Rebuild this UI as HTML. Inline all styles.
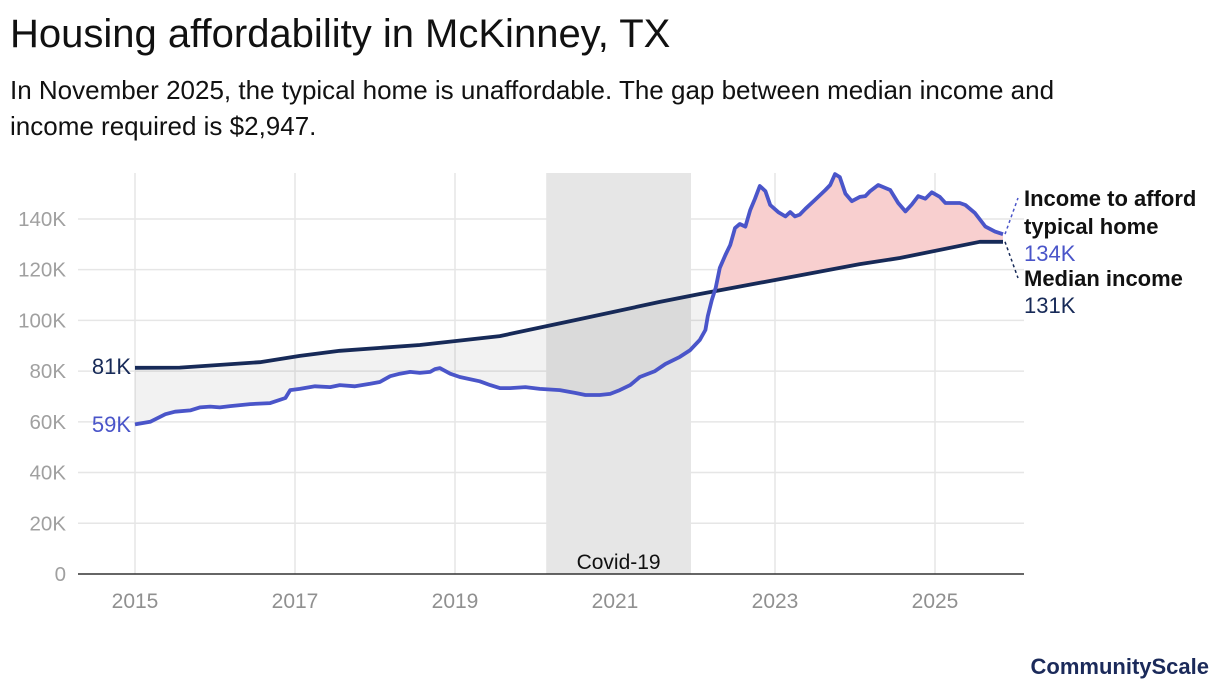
<!DOCTYPE html>
<html><head><meta charset="utf-8"><style>
body{margin:0;background:#fff;font-family:"Liberation Sans",sans-serif;}
#wrap{position:relative;width:1220px;height:692px;overflow:hidden;}
.t{position:absolute;white-space:nowrap;}
</style></head><body>
<div id="wrap">
<div class="t" style="left:10px;top:12px;font-size:40px;color:#111;">Housing affordability in McKinney, TX</div>
<div class="t" style="left:10px;top:72px;font-size:26px;line-height:36px;color:#111;white-space:normal;width:1125px;">In November 2025, the typical home is unaffordable. The gap between median income and income required is $2,947.</div>
<svg id="chart" width="1220" height="692" style="position:absolute;left:0;top:0;font-family:'Liberation Sans',sans-serif;"></svg>
<div class="t" style="right:11px;top:654px;font-size:22px;font-weight:bold;color:#1b2a5a;">CommunityScale</div>
</div>
<script>
const reqDates=[2015.0,2015.19,2015.38,2015.5,2015.69,2015.81,2015.94,2016.06,2016.19,2016.44,2016.69,2016.88,2016.94,2017.06,2017.25,2017.44,2017.56,2017.75,2017.94,2018.06,2018.19,2018.31,2018.44,2018.56,2018.69,2018.75,2018.81,2018.94,2019.06,2019.31,2019.44,2019.56,2019.69,2019.88,2020.06,2020.31,2020.5,2020.63,2020.81,2020.94,2021.06,2021.19,2021.31,2021.5,2021.63,2021.81,2021.94,2022.06,2022.13,2022.16,2022.21,2022.26,2022.31,2022.38,2022.44,2022.5,2022.56,2022.63,2022.69,2022.75,2022.81,2022.88,2022.94,2023.04,2023.13,2023.19,2023.25,2023.31,2023.38,2023.5,2023.63,2023.69,2023.75,2023.81,2023.88,2023.96,2024.06,2024.13,2024.19,2024.29,2024.44,2024.54,2024.63,2024.71,2024.79,2024.88,2024.96,2025.06,2025.13,2025.31,2025.38,2025.5,2025.63,2025.75,2025.85];
const reqValues=[59,60,63,64,64.5,65.7,66,65.7,66.2,67,67.4,69.4,72.5,73,74,73.7,74.5,74,75,75.7,78,79,79.7,79.3,79.7,80.8,81.2,79,77.7,76,74.5,73.3,73.3,73.7,73,72.5,71.4,70.6,70.6,71,72.5,74.5,77.7,80,82.8,85.6,88.3,92.3,96.2,101.7,108,113,120.7,125.8,129.7,136.4,138,137,143.5,148,153,151,145.5,142.7,141,142.7,141,141.7,144,147.5,151.4,153.4,157.7,156.5,150,147,148.7,149,151,153.4,151.4,146.3,143,145.7,149,148,150.5,148.7,146.3,146.3,145.5,142.3,137,135,134];
const incDates=[2015.0,2015.56,2016.56,2017.06,2017.56,2018.56,2019.56,2020.56,2021.56,2022.06,2023.06,2024.06,2024.56,2025.56,2025.85];
const incValues=[81.3,81.4,83.5,86,88,90.3,93.8,100.5,107.3,110.4,116.3,122.2,124.6,131,131];
const yTicks=[0,20,40,60,80,100,120,140];
const yTickLabels=["0","20K","40K","60K","80K","100K","120K","140K"];
const xTicks=[2015,2017,2019,2021,2023,2025];
const covidRange=[2020.14,2021.95];

const X0=78,X1=1024,Y0=574,YT=173;
const xs=t=>135+80*(t-2015);
const ys=v=>574-2.536*v;
const svg=document.getElementById('chart');
const NS='http://www.w3.org/2000/svg';
function mk(tag,attrs,parent){const e=document.createElementNS(NS,tag);for(const k in attrs)e.setAttribute(k,attrs[k]);(parent||svg).appendChild(e);return e;}

yTicks.forEach((v,i)=>{
  if(v>0){const g=mk('line',{x1:X0,x2:X1,y1:ys(v),y2:ys(v),stroke:'#e6e6e6','stroke-width':1.5});
  
  }
  const t=mk('text',{x:66,y:ys(v)+7,'text-anchor':'end','font-size':20.5,fill:'#a0a0a0'});
  t.textContent=yTickLabels[i];
  
  
});
xTicks.forEach(yr=>{
  const g=mk('line',{x1:xs(yr),x2:xs(yr),y1:YT,y2:Y0,stroke:'#e6e6e6','stroke-width':1.5});
  
  
  const t=mk('text',{x:xs(yr),y:608,'text-anchor':'middle','font-size':21,fill:'#909090'});
  t.textContent=yr;
  
  
});

const band=mk('rect',{x:xs(covidRange[0]),y:YT,width:xs(covidRange[1])-xs(covidRange[0]),height:Y0-YT,fill:'#e6e6e6'});



const reqPts=reqDates.map((d,i)=>[xs(d),ys(reqValues[i])]);
const incPts=incDates.map((d,i)=>[xs(d),ys(incValues[i])]);
const toStr=p=>p.map(q=>q[0].toFixed(1)+','+q[1].toFixed(1)).join(' ');
const defs=mk('defs',{});
const cAbove=mk('clipPath',{id:'above'},defs);
mk('polygon',{points:toStr(incPts)+` ${incPts[incPts.length-1][0]},0 ${incPts[0][0]},0`},cAbove);
const cBelow=mk('clipPath',{id:'below'},defs);
mk('polygon',{points:toStr(incPts)+` ${incPts[incPts.length-1][0]},700 ${incPts[0][0]},700`},cBelow);
const gapPoly=toStr(reqPts)+' '+toStr(incPts.slice().reverse());
const pink=mk('polygon',{points:gapPoly,fill:'#f8cfcf','clip-path':'url(#above)'});


const grey=mk('polygon',{points:gapPoly,fill:'rgba(0,0,0,0.05)','clip-path':'url(#below)'});



const cl=mk('text',{x:(xs(covidRange[0])+xs(covidRange[1]))/2,y:569,'text-anchor':'middle','font-size':21,fill:'#111'});
cl.textContent='Covid-19';



const ax=mk('line',{x1:X0,x2:X1,y1:Y0,y2:Y0,stroke:'#333','stroke-width':1.5});



const l2=mk('polyline',{points:toStr(incPts),fill:'none',stroke:'#172a58','stroke-width':3.8,'stroke-linejoin':'round'});


const l1=mk('polyline',{points:toStr(reqPts),fill:'none',stroke:'#4a55c9','stroke-width':3.8,'stroke-linejoin':'round'});



const lr=reqPts[reqPts.length-1], li=incPts[incPts.length-1];
const d1=mk('line',{x1:lr[0]+2,y1:lr[1],x2:1018,y2:198,stroke:'#4a55c9','stroke-width':1.5,'stroke-dasharray':'3,3'});


const d2=mk('line',{x1:li[0]+2,y1:li[1],x2:1018,y2:278,stroke:'#172a58','stroke-width':1.5,'stroke-dasharray':'3,3'});



function label(txt,x,y,opts,name){const t=mk('text',Object.assign({x:x,y:y,'font-size':22},opts));t.textContent=txt;

return t;}
label('Income to afford',1024,206,{'font-weight':'bold',fill:'#111'},'required-series-label');
label('typical home',1024,234,{'font-weight':'bold',fill:'#111'},'required-series-label-2');
label(Math.round(reqValues[reqValues.length-1])+'K',1024,261,{fill:'#4a55c9'},'required-end-value');
label('Median income',1024,286,{'font-weight':'bold',fill:'#111'},'income-series-label');
label(Math.round(incValues[incValues.length-1])+'K',1024,313,{fill:'#172a58'},'income-end-value');
label(Math.round(incValues[0])+'K',131,374,{'text-anchor':'end',fill:'#172a58'},'income-start-value');
label(Math.round(reqValues[0])+'K',131,432,{'text-anchor':'end',fill:'#4a55c9'},'required-start-value');
</script>
</body></html>
